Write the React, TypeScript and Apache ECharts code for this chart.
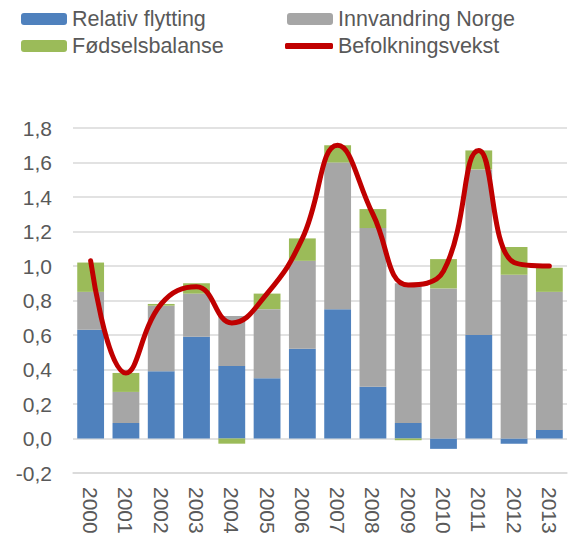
import React, { useEffect, useRef } from "react";
import * as echarts from "echarts";

const years = ["2000","2001","2002","2003","2004","2005","2006","2007","2008","2009","2010","2011","2012","2013"];
const relativFlytting = [0.63, 0.09, 0.39, 0.59, 0.42, 0.35, 0.52, 0.75, 0.30, 0.09, -0.06, 0.60, -0.03, 0.05];
const innvandringNorge = [0.22, 0.18, 0.38, 0.25, 0.29, 0.40, 0.51, 0.85, 0.92, 0.81, 0.87, 0.96, 0.95, 0.80];
const fodselsbalanse = [0.17, 0.11, 0.01, 0.06, -0.03, 0.09, 0.13, 0.10, 0.11, -0.01, 0.17, 0.11, 0.16, 0.14];
const befolkningsvekst = [1.03, 0.38, 0.78, 0.88, 0.67, 0.84, 1.16, 1.70, 1.30, 0.89, 0.97, 1.67, 1.02, 1.00];

const FONT = "'Liberation Sans', Arial, sans-serif";
const TEXT = "#595959";

export default function App() {
  const ref = useRef<HTMLDivElement>(null);
  useEffect(() => {
    if (!ref.current) return;
    const chart = echarts.init(ref.current, undefined, { renderer: "svg" });
    const legendBase = {
      orient: "horizontal",
      itemWidth: 46,
      itemHeight: 12,
      itemGap: 0,
      textStyle: { fontFamily: FONT, fontSize: 21.5, color: TEXT },
      selectedMode: false,
      padding: 0,
    };
    chart.setOption({
      animation: false,
      textStyle: { fontFamily: FONT },
      legend: [
        { ...legendBase, left: 21, top: 8, data: ["Relativ flytting"] },
        { ...legendBase, left: 287, top: 8, data: ["Innvandring Norge"] },
        { ...legendBase, left: 21, top: 35, data: ["Fødselsbalanse"] },
        {
          ...legendBase,
          left: 285,
          top: 35,
          itemWidth: 48,
          itemHeight: 6,
          data: [{ name: "Befolkningsvekst", icon: "roundRect" }],
          itemStyle: { color: "#C00000" },
        },
      ],
      grid: { left: 73, right: 20, top: 128, bottom: 67, containLabel: false },
      xAxis: {
        type: "category",
        data: years,
        axisLine: { onZero: false, lineStyle: { color: "#d9d9d9", width: 1.5 } },
        axisTick: { show: false },
        axisLabel: {
          rotate: -90,
          fontSize: 21,
          color: TEXT,
          fontFamily: FONT,
          margin: 14,
          interval: 0,
        },
      },
      yAxis: {
        type: "value",
        min: -0.2,
        max: 1.8,
        interval: 0.2,
        axisLine: { show: false },
        axisTick: { show: false },
        splitLine: { lineStyle: { color: "#d9d9d9", width: 1.5 } },
        axisLabel: {
          fontSize: 21,
          color: TEXT,
          fontFamily: FONT,
          margin: 21,
          formatter: (v: number) => v.toFixed(1).replace(".", ","),
        },
      },
      series: [
        {
          name: "Relativ flytting",
          type: "bar",
          stack: "total",
          data: relativFlytting,
          barCategoryGap: "24%",
          itemStyle: { color: "#4F81BD" },
        },
        {
          name: "Innvandring Norge",
          type: "bar",
          stack: "total",
          data: innvandringNorge,
          itemStyle: { color: "#A6A6A6" },
        },
        {
          name: "Fødselsbalanse",
          type: "bar",
          stack: "total",
          data: fodselsbalanse,
          itemStyle: { color: "#9BBB59" },
        },
        {
          name: "Befolkningsvekst",
          type: "line",
          data: befolkningsvekst,
          smooth: 0.45,
          symbol: "none",
          lineStyle: { color: "#C00000", width: 5, cap: "round" },
          itemStyle: { color: "#C00000" },
          z: 10,
        },
      ],
    });
    return () => chart.dispose();
  }, []);
  return <div ref={ref} style={{ width: 587, height: 540, position: "absolute", left: 0, top: 0 }} />;
}
